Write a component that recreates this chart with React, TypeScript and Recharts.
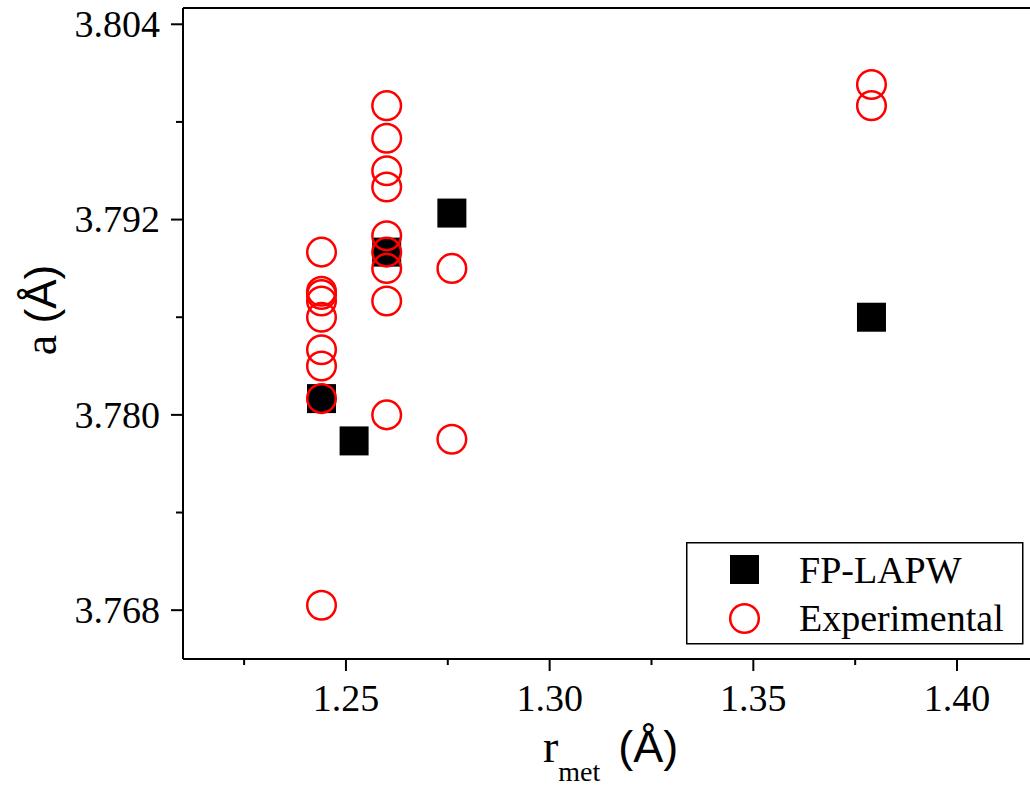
import React from 'react';
import { ScatterChart, Scatter, XAxis, YAxis, ReferenceLine, Label } from 'recharts';

// FP-LAPW calculated lattice constants
const lapwR = [1.244, 1.252, 1.26, 1.276, 1.379];
const lapwA = [3.781, 3.7784, 3.79, 3.7924, 3.786];

// experimental values
const expR = [
  1.244, 1.244, 1.244, 1.244, 1.244, 1.244, 1.244, 1.244, 1.244,
  1.26, 1.26, 1.26, 1.26, 1.26, 1.26, 1.26, 1.26, 1.26,
  1.276, 1.276,
  1.379, 1.379,
];
const expA = [
  3.79, 3.7876, 3.7874, 3.787, 3.786, 3.784, 3.783, 3.781, 3.7683,
  3.799, 3.797, 3.795, 3.794, 3.791, 3.79, 3.789, 3.787, 3.78,
  3.789, 3.7785,
  3.8003, 3.799,
];

const xTicks = [1.225, 1.25, 1.275, 1.3, 1.325, 1.35, 1.375, 1.4];
const xMajor = [1.25, 1.3, 1.35, 1.4];
const yTicks = [3.768, 3.774, 3.78, 3.786, 3.792, 3.798, 3.804];
const yMajor = [3.768, 3.78, 3.792, 3.804];

const lapwData = lapwR.map((r, i) => ({ r, a: lapwA[i] }));
const expData = expR.map((r, i) => ({ r, a: expA[i] }));

const AXIS_X = 183;
const AXIS_Y = 659;
const FONT = '"Liberation Serif", "Times New Roman", serif';
const SANS = '"Liberation Sans", Arial, sans-serif';

const isMajor = (v: number, list: number[]) => list.some(m => Math.abs(m - v) < 1e-9);

const XTick = (props: any) => {
  const { x, payload } = props;
  const major = isMajor(payload.value, xMajor);
  return (
    <g>
      <line x1={x} x2={x} y1={AXIS_Y} y2={AXIS_Y + (major ? 12 : 6)} stroke="#000" strokeWidth={2} />
      {major && (
        <text x={x} y={AXIS_Y + 52} textAnchor="middle" fontSize={38} fontFamily={FONT} fill="#000">
          {payload.value.toFixed(2)}
        </text>
      )}
    </g>
  );
};

const YTick = (props: any) => {
  const { y, payload } = props;
  const major = isMajor(payload.value, yMajor);
  return (
    <g>
      <line x1={AXIS_X - (major ? 12 : 7)} x2={AXIS_X} y1={y} y2={y} stroke="#000" strokeWidth={2} />
      {major && (
        <text x={AXIS_X - 23} y={y} dy="0.34em" textAnchor="end" fontSize={38} fontFamily={FONT} fill="#000">
          {payload.value.toFixed(3)}
        </text>
      )}
    </g>
  );
};

const SquareDot = (props: any) => (
  <rect x={props.cx - 14.5} y={props.cy - 14.5} width={29} height={29} fill="#000" />
);

const CircleDot = (props: any) => (
  <circle cx={props.cx} cy={props.cy} r={14.3} fill="none" stroke="#ff0000" strokeWidth={2.5} />
);

const LegendBox = () => (
  <svg width={338} height={103} style={{ position: 'absolute', left: 685.5, top: 541.5 }}>
    <rect x={0.75} y={0.75} width={336} height={101} fill="#fff" stroke="#000" strokeWidth={1.5} />
    <rect x={58.5 - 14.5} y={27.5 - 14.5} width={29} height={29} fill="#000" />
    <circle cx={58.5} cy={76.5} r={14.3} fill="none" stroke="#ff0000" strokeWidth={2.5} />
    <text x={113} y={40.5} fontSize={38} fontFamily={FONT} fill="#000">FP-LAPW</text>
    <text x={113} y={88.5} fontSize={38} fontFamily={FONT} fill="#000">Experimental</text>
  </svg>
);

export default function App() {
  return (
    <div style={{ position: 'absolute', left: 0, top: 0, width: 1030, height: 787, overflow: 'hidden', background: '#fff' }}>
      <ScatterChart width={1040} height={787} margin={{ top: 8, right: 1.5, bottom: 0, left: 0 }}>
        <XAxis
          type="number"
          dataKey="r"
          domain={[1.21, 1.42]}
          ticks={xTicks}
          interval={0}
          height={128}
          tickLine={false}
          tick={<XTick />}
          axisLine={{ stroke: '#000', strokeWidth: 2 }}
        >
          <Label
            content={() => (
              <text x={543} y={762} fill="#000">
                <tspan fontSize={46} fontFamily={FONT}>r</tspan>
                <tspan fontSize={28} fontFamily={FONT} dy={19}>met</tspan>
                <tspan fontSize={45} fontFamily={SANS} dy={-19} dx={18}>(Å)</tspan>
              </text>
            )}
          />
        </XAxis>
        <YAxis
          type="number"
          dataKey="a"
          domain={[3.765, 3.805]}
          ticks={yTicks}
          interval={0}
          width={183}
          tickLine={false}
          tick={<YTick />}
          axisLine={{ stroke: '#000', strokeWidth: 2 }}
        >
          <Label
            content={() => (
              <text x={56} y={310} transform="rotate(-90 56 310)" textAnchor="middle" fill="#000">
                <tspan fontSize={46} fontFamily={FONT}>a </tspan>
                <tspan fontSize={44} fontFamily={SANS}>(Å)</tspan>
              </text>
            )}
          />
        </YAxis>
        <ReferenceLine y={3.805} stroke="#000" strokeWidth={2} />
        <Scatter name="FP-LAPW" data={lapwData} shape={<SquareDot />} isAnimationActive={false} />
        <Scatter name="Experimental" data={expData} shape={<CircleDot />} isAnimationActive={false} />
      </ScatterChart>
      <LegendBox />
    </div>
  );
}
